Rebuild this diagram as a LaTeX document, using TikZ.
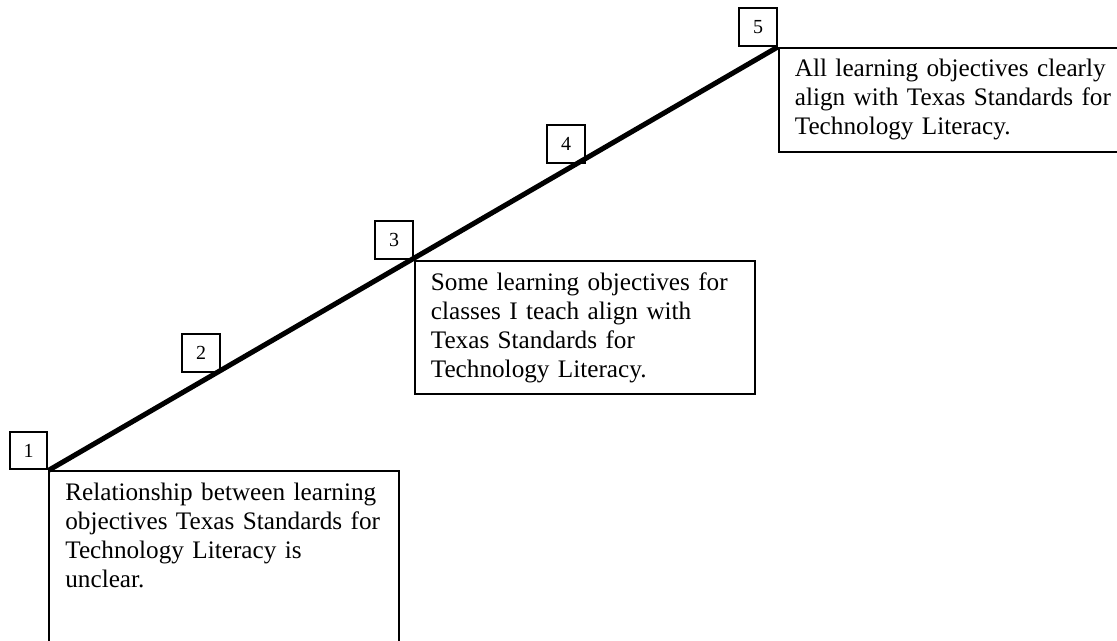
\documentclass[tikz,border=0pt]{standalone}
\usepackage{fontspec}
\setmainfont{Liberation Serif}

\tikzset{
  numbox/.style={draw, line width=0.95pt, minimum size=18pt, inner sep=0pt,
    font=\fontsize{9.5}{11}\selectfont},
  levelbox/.style={draw, line width=0.95pt, anchor=north west, align=left,
    inner xsep=7.6pt, inner ysep=5.5pt, font=\fontsize{12}{13.8}\selectfont},
  stairline/.style={line width=2.4pt}
}

\begin{document}
\begin{tikzpicture}[x=0.476pt,y=-0.476pt]
\useasboundingbox (0,0) rectangle (1117,640);
\clip (0,0) rectangle (1117,640);
% level numbers
\node[numbox] (n1) at (28.5,450.5) {1};
\node[numbox] (n2) at (201,353) {2};
\node[numbox] (n3) at (394,240) {3};
\node[numbox] (n4) at (566,144) {4};
\node[numbox] (n5) at (758,27) {5};
\draw[stairline] (n1.south east) -- (n5.south east);
% descriptions
\node[levelbox, text width=151.4pt] (t1) at (n1.south east) {Relationship between learning\\objectives Texas Standards for\\Technology Literacy is\\unclear.\rule[-80pt]{0pt}{0pt}};
\node[levelbox, text width=146.6pt] (t3) at (n3.south east) {Some learning objectives for\\classes I teach align with\\Texas Standards for\\Technology Literacy.};
\node[levelbox, text width=171pt] (t5) at (n5.south east) {All learning objectives clearly\\align with Texas Standards for\\Technology Literacy.};
\end{tikzpicture}
\end{document}
